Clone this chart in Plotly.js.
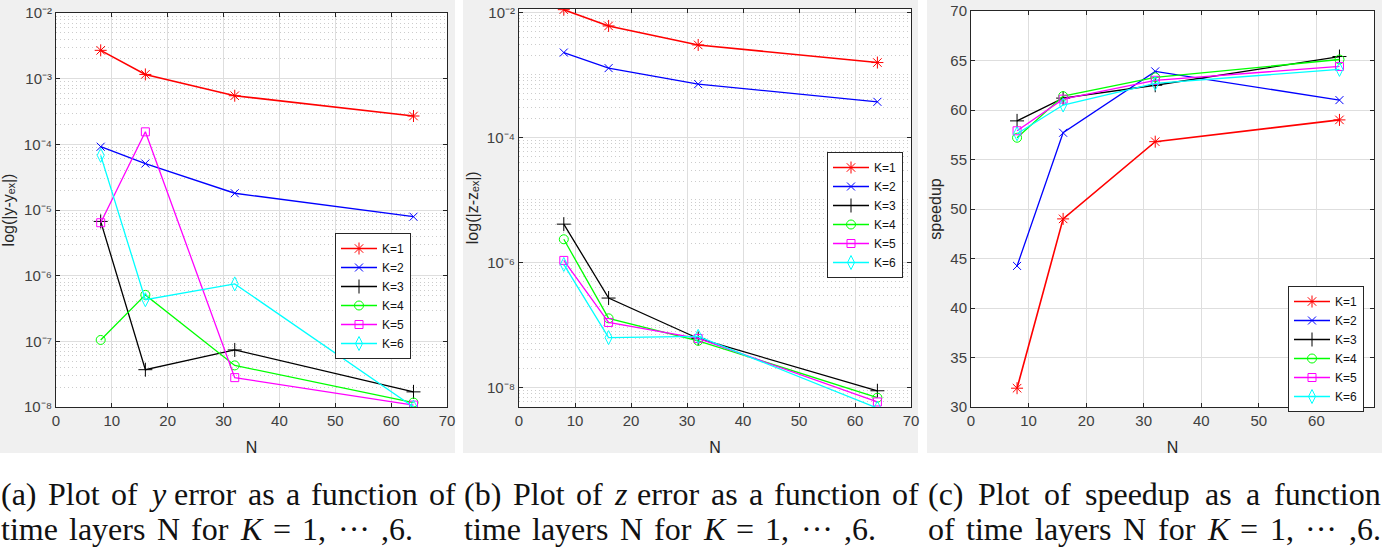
<!DOCTYPE html>
<html>
<head>
<meta charset="utf-8">
<script src="https://cdn.plot.ly/plotly-3.0.1.min.js"></script>
<style>
  html, body { margin: 0; padding: 0; background: #fff; }
  #chart { width: 1382px; height: 554px; }
</style>
</head>
<body>
<div id="chart"></div>
<script>
const W = 1382, H = 554;

// time layers
const N = [8, 16, 32, 64];
const seriesNames = ['K=1', 'K=2', 'K=3', 'K=4', 'K=5', 'K=6'];

// (a) |y - y_ex|, one row per K
const yErr = [
  [2.7e-3, 1.16e-3, 5.5e-4, 2.7e-4],
  [9.2e-5, 5.1e-5, 1.8e-5, 7.9e-6],
  [6.7e-6, 3.7e-8, 7.4e-8, 1.7e-8],
  [1.05e-7, 5.1e-7, 4.3e-8, 1.17e-8],
  [6.4e-6, 1.55e-4, 2.8e-8, 1.07e-8],
  [6.8e-5, 4.3e-7, 7.5e-7, 1.0e-8]
];

// (b) |z - z_ex|
const zErr = [
  [1.1e-2, 6.05e-3, 3.0e-3, 1.57e-3],
  [2.27e-3, 1.28e-3, 7.1e-4, 3.7e-4],
  [4.1e-6, 2.7e-7, 6.1e-8, 8.9e-9],
  [2.35e-6, 1.28e-7, 5.6e-8, 6.9e-9],
  [1.08e-6, 1.1e-7, 6.1e-8, 5.9e-9],
  [9.3e-7, 6.3e-8, 6.6e-8, 4.7e-9]
];

// (c) speedup
const speedup = [
  [31.9, 49.0, 56.8, 59.0],
  [44.25, 57.7, 63.9, 61.0],
  [58.9, 61.2, 62.5, 65.4],
  [57.2, 61.4, 63.3, 65.1],
  [57.9, 61.1, 63.0, 64.4],
  [57.6, 60.5, 62.7, 64.1]
];

// decade tick labels on the two log axes
const yErrExps = [-8, -7, -6, -5, -4, -3, -2];
const zErrExps = [-8, -6, -4, -2];

const colors = ['#ff0000', '#0000ff', '#000000', '#00ff00', '#ff00ff', '#00ffff'];
const symbols = ['asterisk-open', 'x-thin-open', 'cross-thin-open', 'circle-open', 'square-open', 'diamond-tall-open'];
const sizes = [10, 8, 10, 9, 8, 10];

const panels = [
  { data: yErr, xa: 'x', ya: 'y', legend: 'legend' },
  { data: zErr, xa: 'x2', ya: 'y2', legend: 'legend2' },
  { data: speedup, xa: 'x3', ya: 'y3', legend: 'legend3' }
];

const traces = [];
panels.forEach(p => {
  p.data.forEach((vals, k) => {
    traces.push({
      type: 'scatter',
      mode: 'lines+markers',
      name: seriesNames[k],
      x: N,
      y: vals,
      xaxis: p.xa,
      yaxis: p.ya,
      legend: p.legend,
      line: { color: colors[k], width: k === 0 ? 1.6 : 1.3 },
      marker: { symbol: symbols[k], size: sizes[k], color: colors[k], line: { color: colors[k], width: 1 } }
    });
  });
});

// paper fractions from pixel boxes
const px = (x) => x / W;
const py = (y) => 1 - y / H;

const SUP = { '-': '\u207B', '0': '\u2070', '1': '\u00B9', '2': '\u00B2', '3': '\u00B3', '4': '\u2074',
  '5': '\u2075', '6': '\u2076', '7': '\u2077', '8': '\u2078', '9': '\u2079' };
const powerLabel = (e) => '10' + String(e).split('').map(c => SUP[c]).join('');

const tickFont = { family: 'Liberation Sans, Arial, sans-serif', size: 15, color: '#404040' };
const titleFont = { family: 'Liberation Sans, Arial, sans-serif', size: 16, color: '#262626' };

function xAxis(domain, anchor) {
  return {
    domain: domain, anchor: anchor, range: [0, 70], dtick: 10,
    showline: true, mirror: 'ticks', linecolor: '#262626', linewidth: 1,
    ticks: 'inside', ticklen: 4, tickcolor: '#262626',
    showgrid: true, gridcolor: '#dedede', zeroline: false,
    tickfont: tickFont,
    title: { text: 'N', font: titleFont, standoff: 13 }
  };
}

function logAxis(domain, anchor, range, exps, title, standoff) {
  return {
    domain: domain, anchor: anchor, type: 'log', range: range,
    tickmode: 'array',
    tickvals: exps.map(e => Math.pow(10, e)),
    ticktext: exps.map(powerLabel),
    showline: true, mirror: 'ticks', linecolor: '#262626', linewidth: 1,
    ticks: 'inside', ticklen: 4, tickcolor: '#262626',
    showgrid: true, gridcolor: '#dedede', zeroline: false,
    minor: { dtick: 'D1', showgrid: true, gridcolor: '#cccccc', griddash: '1px,3px', ticks: '' },
    tickfont: tickFont,
    title: { text: title, font: titleFont, standoff: standoff }
  };
}

const legendBase = {
  xref: 'paper', yref: 'paper', xanchor: 'left', yanchor: 'top',
  bgcolor: '#ffffff', bordercolor: '#262626', borderwidth: 1,
  font: { family: 'Liberation Sans, Arial, sans-serif', size: 12, color: '#111' },
  itemwidth: 36, tracegroupgap: 0
};

// caption lines, spread out like the justified LaTeX text
const capFamily = 'Liberation Serif';
const ctx = document.createElement('canvas').getContext('2d');
function wordWidth(w, size) {
  let total = 0;
  w.split(/(<i>.*?<\/i>)/).forEach(part => {
    if (!part) return;
    const italic = part.startsWith('<i>');
    ctx.font = (italic ? 'italic ' : '') + size + 'px "' + capFamily + '"';
    total += ctx.measureText(part.replace(/<\/?i>/g, '')).width;
  });
  return total;
}
function justify(line, x0, x1, y, size) {
  const words = line.split(' ');
  const widths = words.map(w => wordWidth(w, size));
  const gap = (x1 - x0 - widths.reduce((a, b) => a + b, 0)) / (words.length - 1);
  let x = x0;
  return words.map((w, i) => {
    const a = {
      text: w, x: px(x), y: py(y), xref: 'paper', yref: 'paper',
      xanchor: 'left', yanchor: 'middle', showarrow: false, borderpad: 0,
      font: { family: capFamily, size: size, color: '#111' }
    };
    x += widths[i] + gap;
    return a;
  });
}

const capSize = 32;
const annotations = [].concat(
  justify('(a) Plot of <i>y</i> error as a function of', 0, 455, 494, capSize),
  justify('time layers N for <i>K</i> = 1, ··· ,6.', 0, 412, 529, capSize),
  justify('(b) Plot of <i>z</i> error as a function of', 463, 918, 494, capSize),
  justify('time layers N for <i>K</i> = 1, ··· ,6.', 463, 875, 529, capSize),
  justify('(c) Plot of speedup as a function', 927, 1380, 494, capSize),
  justify('of time layers N for <i>K</i> = 1, ··· ,6.', 927, 1380, 529, capSize)
);

const white = (x0, y0, x1, y1) => ({
  type: 'rect', xref: 'paper', yref: 'paper', layer: 'below',
  x0: px(x0), x1: px(x1), y0: py(y1), y1: py(y0),
  fillcolor: '#ffffff', line: { width: 0 }
});

const layout = {
  width: W, height: H,
  margin: { l: 0, r: 0, t: 0, b: 0 },
  paper_bgcolor: '#f0f0f0',
  plot_bgcolor: '#ffffff',
  showlegend: true,
  xaxis: xAxis([px(56), px(447)], 'y'),
  yaxis: logAxis([py(407), py(13)], 'x', [-8, -2], yErrExps, 'log(|y-y\u2091\u2093|)', 6),
  xaxis2: xAxis([px(519), px(911)], 'y2'),
  yaxis2: logAxis([py(407), py(8.5)], 'x2', [-8.31, -1.94], zErrExps, 'log(|z-z\u2091\u2093|)', 4),
  xaxis3: xAxis([px(971), px(1374)], 'y3'),
  yaxis3: {
    domain: [py(407), py(11)], anchor: 'x3', range: [30, 70], dtick: 5,
    showline: true, mirror: 'ticks', linecolor: '#262626', linewidth: 1,
    ticks: 'inside', ticklen: 4, tickcolor: '#262626',
    showgrid: true, gridcolor: '#dedede', zeroline: false,
    tickfont: tickFont,
    title: { text: 'speedup', font: titleFont, standoff: 4 }
  },
  legend: Object.assign({}, legendBase, { x: px(335), y: py(233) }),
  legend2: Object.assign({}, legendBase, { x: px(827), y: py(152) }),
  legend3: Object.assign({}, legendBase, { x: px(1288), y: py(286) }),
  shapes: [
    white(0, 453, W, H),
    white(455, 0, 463, 453),
    white(918, 0, 927, 453)
  ],
  annotations: annotations
};

Plotly.newPlot('chart', traces, layout, { displayModeBar: false, staticPlot: true });
</script>
</body>
</html>
